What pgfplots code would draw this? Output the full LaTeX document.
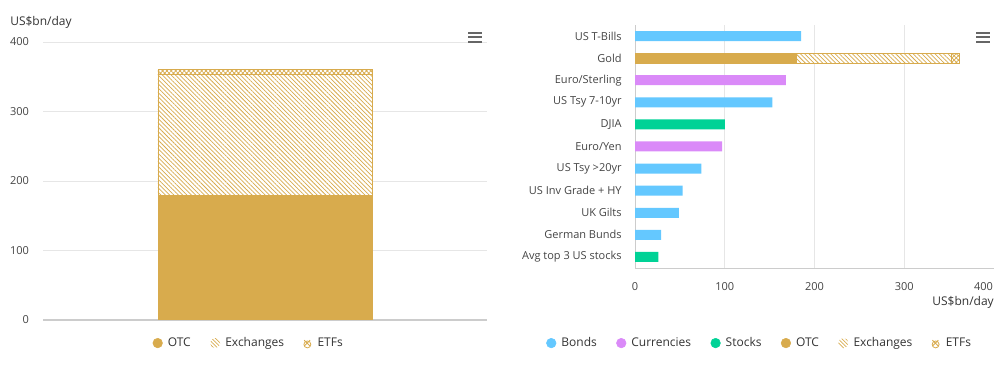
\documentclass[border=0pt]{standalone}
\usepackage{pgfplots}
\pgfplotsset{compat=1.18}
\usepackage{fontspec}
\setmainfont{Open Sans}
\usetikzlibrary{patterns,patterns.meta}
\definecolor{bonds}{HTML}{64C8FF}
\definecolor{curr}{HTML}{DA8AF8}
\definecolor{stocks}{HTML}{00D296}
\definecolor{goldc}{HTML}{D8AB4D}
\definecolor{gridc}{HTML}{E6E6E6}
\definecolor{axisc}{HTML}{CCCCCC}
\definecolor{txt}{HTML}{333333}
\definecolor{lbl}{HTML}{444444}
\definecolor{menuc}{HTML}{666666}
\tikzset{
  exch/.style={fill=white, draw=goldc, line width=0.6pt, postaction={pattern color=goldc, pattern={Lines[angle=-45,distance=2.3pt,line width=0.55pt]}}},
  etf/.style={fill=white, draw=goldc, line width=0.6pt, postaction={pattern color=goldc, pattern={Hatch[angle=45,distance=2.3pt,line width=0.5pt]}}},
}
\pgfplotsset{
  dotleg/.style={legend image code/.code={\fill[#1] (3.6pt,0pt) circle (3.6pt); \path (9pt,0pt);}},
  exchleg/.style={legend image code/.code={\path[draw=none, pattern color=goldc, pattern={Lines[angle=-45,distance=2pt,line width=0.55pt]}] (3.6pt,0pt) circle (3.8pt); \path (9pt,0pt);}},
  etfleg/.style={legend image code/.code={\draw[goldc, line width=0.6pt] (1.2pt,2.2pt) -- (5.6pt,-2.2pt) (1.2pt,-2.2pt) -- (5.6pt,2.2pt); \draw[goldc, line width=0.6pt] (3.6pt,-1pt) circle (2.6pt); \path (9pt,0pt);}},
  mylegend/.style={legend style={draw=none, fill=none, font=\fontsize{9}{11}\selectfont, text=txt,
      legend columns=-1, /tikz/every even column/.append style={column sep=12.5pt}, cells={anchor=west}}},
}
\begin{document}
\begin{tikzpicture}[x=0.75pt,y=0.75pt]
\path[use as bounding box] (0,0) rectangle (1000,368);
% ---------- left chart ----------
\begin{axis}[at={(32.25pt,36pt)}, anchor=south west, scale only axis,
  width=333pt, height=208.5pt,
  xmin=-1, xmax=1, ymin=0, ymax=400,
  ytick={0,100,200,300,400}, xtick=\empty,
  axis x line=bottom, axis y line=left, axis line style={-},
  x axis line style={draw=axisc, line width=0.75pt}, y axis line style={draw=none},
  ymajorgrids, grid style={gridc, line width=0.75pt}, major tick length=0pt,
  yticklabel style={font=\fontsize{8.25}{10}\selectfont, text=lbl, xshift=-7pt},
  /pgf/number format/assume math mode=true,
  ybar stacked, bar width=0.964,
  mylegend, legend style={at={(0.464,-0.083)}, anchor=center},
]
\addplot[fill=goldc, draw=goldc, line width=0.6pt, forget plot] coordinates {(0,180)};
\addplot[exch, forget plot] coordinates {(0,173)};
\addplot[etf, forget plot] coordinates {(0,8)};
\addlegendimage{dotleg=goldc}\addlegendentry{OTC}
\addlegendimage{exchleg}\addlegendentry{Exchanges}
\addlegendimage{etfleg}\addlegendentry{ETFs}
\end{axis}
\node[anchor=west, inner sep=0pt, font=\fontsize{9}{11}\selectfont, text=txt] at (10,346) {US\$bn/day};
\foreach \yy in {335,330.5,326} {\draw[menuc, line width=1.5pt] (468,\yy) -- (482,\yy);}
% ---------- right chart ----------
\begin{axis}[at={(476.25pt,75pt)}, anchor=south west, scale only axis,
  width=269.25pt, height=182.25pt,
  xmin=0, xmax=400, ymin=-0.5, ymax=10.5,
  xtick={0,100,200,300}, extra x ticks={400},
  extra x tick style={grid=none, xticklabel style={anchor=north east, xshift=2.75pt}},
  ytick={0,...,10},
  yticklabels={Avg top 3 US stocks, German Bunds, UK Gilts, US Inv Grade + HY, US Tsy >20yr, Euro/Yen, DJIA, US Tsy 7-10yr, Euro/Sterling, Gold, US T-Bills},
  axis x line=bottom, axis y line=left, axis line style={-, draw=axisc, line width=0.75pt},
  xmajorgrids, grid style={gridc, line width=0.75pt}, major tick length=0pt,
  yticklabel style={font=\fontsize{8.25}{10}\selectfont, text=lbl, xshift=-6.5pt},
  xticklabel style={font=\fontsize{8.25}{10}\selectfont, text=lbl, yshift=-7.5pt},
  /pgf/number format/assume math mode=true,
  xbar, bar width=7.5pt, bar shift=0pt,
  mylegend, legend style={at={(0.348,-0.309)}, anchor=center},
]
\addplot[fill=bonds, draw=none, forget plot] coordinates {(185,10) (153,7) (74,4) (53,3) (49,2) (29,1)};
\addplot[fill=curr, draw=none, forget plot] coordinates {(168,8) (97,5)};
\addplot[fill=stocks, draw=none, forget plot] coordinates {(100,6) (26,0)};
\addlegendimage{dotleg=bonds}\addlegendentry{Bonds}
\addlegendimage{dotleg=curr}\addlegendentry{Currencies}
\addlegendimage{dotleg=stocks}\addlegendentry{Stocks}
\addlegendimage{dotleg=goldc}\addlegendentry{OTC}
\addlegendimage{exchleg}\addlegendentry{Exchanges}
\addlegendimage{etfleg}\addlegendentry{ETFs}
\end{axis}
\begin{axis}[at={(476.25pt,75pt)}, anchor=south west, scale only axis,
  width=269.25pt, height=182.25pt,
  xmin=0, xmax=400, ymin=-0.5, ymax=10.5, hide axis,
  xbar stacked, bar width=7.5pt,
]
\addplot[fill=goldc, draw=goldc, line width=0.6pt] coordinates {(180,9)};
\addplot[exch] coordinates {(173,9)};
\addplot[etf] coordinates {(8,9)};
\end{axis}
\node[anchor=east, inner sep=0pt, font=\fontsize{9}{11}\selectfont, text=txt] at (994,65.5) {US\$bn/day};
\foreach \yy in {335,330.5,326} {\draw[menuc, line width=1.5pt] (976,\yy) -- (990,\yy);}
\end{tikzpicture}
\end{document}
